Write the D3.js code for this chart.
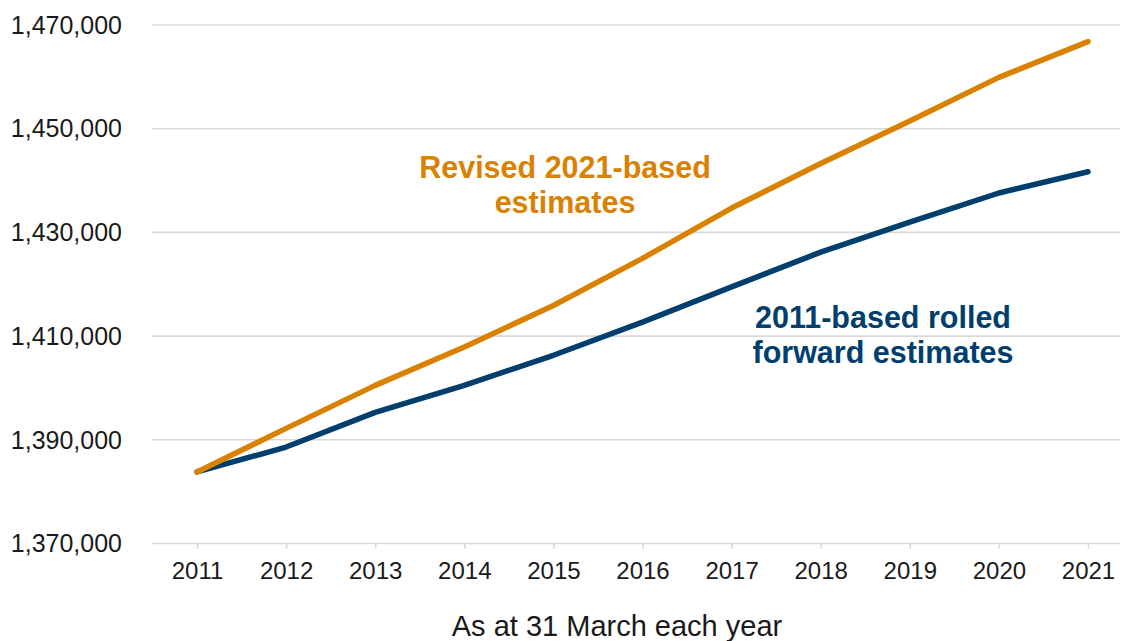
<!DOCTYPE html>
<html>
<head>
<meta charset="utf-8">
<script src="https://cdn.jsdelivr.net/npm/d3@7"></script>
<style>
  html, body { margin: 0; padding: 0; background: #ffffff; }
  svg { display: block; }
  text { font-family: "Liberation Sans", Arial, sans-serif; }
</style>
</head>
<body>
<svg id="chart" width="1122" height="641"></svg>
<script>
const years = ["2011","2012","2013","2014","2015","2016","2017","2018","2019","2020","2021"];
const revised2021 = [1383800, 1392200, 1400500, 1407900, 1415900, 1425000, 1434700, 1443300, 1451500, 1459900, 1466800];
const rolled2011  = [1383800, 1388600, 1395300, 1400500, 1406300, 1412700, 1419500, 1426200, 1432000, 1437600, 1441700];
const yTicks = [1370000, 1390000, 1410000, 1430000, 1450000, 1470000];
const seriesNames = ["Revised 2021-based estimates", "2011-based rolled forward estimates"];
const labelLines = [["Revised 2021-based", "estimates"], ["2011-based rolled", "forward estimates"]];
const xTitle = "As at 31 March each year";

const colOrange = "#D98100";
const colBlue = "#003F6D";
const gridCol = "#D9D9D9";
const textCol = "#1a1a1a";

const svg = d3.select("#chart");
const plotLeft = 152, plotRight = 1120;

const x = d3.scalePoint().domain(years).range([197, 1088]);
const y = d3.scaleLinear().domain([1370000, 1470000]).range([543.5, 25]);

// gridlines
svg.append("g").selectAll("line").data(yTicks).join("line")
  .attr("x1", plotLeft).attr("x2", plotRight)
  .attr("y1", d => y(d)).attr("y2", d => y(d))
  .attr("stroke", gridCol).attr("stroke-width", 1.6);

// y labels
const fmt = d3.format(",");
svg.append("g").selectAll("text").data(yTicks).join("text")
  .attr("x", 122).attr("y", d => y(d)).attr("dy", "0.35em")
  .attr("text-anchor", "end")
  .attr("font-size", 25).attr("fill", textCol)
  .text(d => fmt(d));

// x axis ticks and labels
const xAxis = d3.axisBottom(x).tickSize(5).tickSizeOuter(0).tickPadding(12);
const gx = svg.append("g").attr("transform", `translate(0,${y(1370000)})`).call(xAxis);
gx.select(".domain").remove();
gx.selectAll(".tick line").attr("stroke", gridCol).attr("stroke-width", 1.6);
gx.selectAll(".tick text").attr("font-size", 24).attr("fill", textCol)
  .attr("font-family", "Liberation Sans, Arial, sans-serif")
  .attr("dy", "0.71em").attr("y", 18);

// x title
svg.append("text").attr("x", 617).attr("y", 636)
  .attr("text-anchor", "middle").attr("font-size", 29).attr("fill", textCol)
  .text(xTitle);

// lines
const line = d3.line().x((d, i) => x(years[i])).y(d => y(d));
svg.append("path").datum(rolled2011).attr("d", line)
  .attr("fill", "none").attr("stroke", colBlue).attr("stroke-width", 5.5)
  .attr("stroke-linecap", "round").attr("stroke-linejoin", "round");
svg.append("path").datum(revised2021).attr("d", line)
  .attr("fill", "none").attr("stroke", colOrange).attr("stroke-width", 5.5)
  .attr("stroke-linecap", "round").attr("stroke-linejoin", "round");

// series labels
function addLabel(lines, cx, baseline, color) {
  const t = svg.append("text").attr("text-anchor", "middle")
    .attr("font-size", 30.5).attr("font-weight", "bold").attr("fill", color);
  lines.forEach((s, i) => {
    t.append("tspan").attr("x", cx).attr("y", baseline + i * 34.5).text(s);
  });
}
addLabel(labelLines[0], 565, 178, colOrange);
addLabel(labelLines[1], 883, 328, colBlue);
</script>
</body>
</html>
